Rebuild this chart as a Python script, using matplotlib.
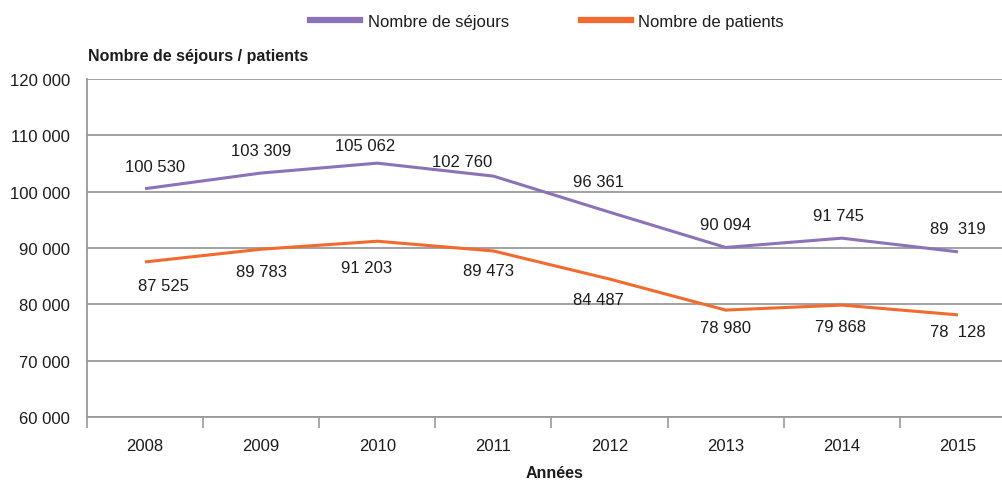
import matplotlib
matplotlib.use("Agg")
import matplotlib.pyplot as plt
from matplotlib.ticker import FuncFormatter, FixedLocator
from matplotlib.lines import Line2D

years = ["2008", "2009", "2010", "2011", "2012", "2013", "2014", "2015"]
sejours = [100530, 103309, 105062, 102760, 96361, 90094, 91745, 89319]
patients = [87525, 89783, 91203, 89473, 84487, 78980, 79868, 78128]
sejours_labels = ["100 530", "103 309", "105 062", "102 760", "96 361", "90 094", "91 745", "89  319"]
patients_labels = ["87 525", "89 783", "91 203", "89 473", "84 487", "78 980", "79 868", "78  128"]

# label offsets in pixels (dx, dy) relative to point, screen coords (dy positive = down)
sej_off = [(10, -22), (0, -23), (-12, -18), (-31, -15), (-11, -31), (0, -23), (-3, -23), (0, -23)]
pat_off = [(18, 24), (0, 22), (-11, 26), (-5, 20), (-11, 20), (0, 17), (-1, 21), (0, 17)]

FONT = ["Liberation Sans", "DejaVu Sans"]
plt.rcParams["font.family"] = FONT
TXT = "#1c1c1c"
GRID = "#9a9a9a"
PURPLE = "#8c72b8"
ORANGE = "#f26a2e"
FS = 12

fig = plt.figure(figsize=(10.02, 4.81), dpi=100)
ax = fig.add_axes([87 / 1002, 63 / 481, 929 / 1002, 338 / 481])

x = list(range(1, len(years) + 1))
ax.plot(x, sejours, color=PURPLE, lw=2.2, solid_capstyle="butt")
ax.plot(x, patients, color=ORANGE, lw=2.2, solid_capstyle="butt")

px2pt = 0.72
for xi, v, lab, (dx, dy) in zip(x, sejours, sejours_labels, sej_off):
    ax.annotate(lab, (xi, v), xytext=(dx * px2pt, -dy * px2pt), textcoords="offset points",
                ha="center", va="center", fontsize=FS, color=TXT)
for xi, v, lab, (dx, dy) in zip(x, patients, patients_labels, pat_off):
    ax.annotate(lab, (xi, v), xytext=(dx * px2pt, -dy * px2pt), textcoords="offset points",
                ha="center", va="center", fontsize=FS, color=TXT)

ax.set_xlim(0.5, len(years) + 0.5)
ax.set_ylim(60000, 120000)
ax.set_yticks(range(60000, 120001, 10000))
ax.yaxis.set_major_formatter(FuncFormatter(lambda v, p: f"{int(v):,}".replace(",", " ")))
ax.set_xticks(x)
ax.set_xticklabels(years)
ax.xaxis.set_minor_locator(FixedLocator([i + 0.5 for i in range(0, len(years) + 1)]))
ax.tick_params(axis="x", which="major", length=0, pad=15, labelsize=FS, labelcolor=TXT)
ax.tick_params(axis="x", which="minor", length=8, width=1.2, color=GRID, direction="out")
ax.tick_params(axis="y", which="major", length=0, pad=12, labelsize=FS, labelcolor=TXT)

ax.grid(axis="y", color=GRID, lw=1.3)
ax.set_axisbelow(True)
for s in ["top", "right"]:
    ax.spines[s].set_visible(False)
ax.spines["left"].set_color(GRID)
ax.spines["left"].set_linewidth(1.3)
ax.spines["bottom"].set_color(GRID)
ax.spines["bottom"].set_linewidth(1.3)

fig.text(88 / 1002, 1 - 57 / 481, "Nombre de séjours / patients", fontsize=11.5,
         fontweight="bold", color=TXT, ha="left", va="center")
fig.text(555 / 1002, 1 - 474 / 481, "Années", fontsize=11.5, fontweight="bold",
         color=TXT, ha="center", va="center")

handles = [Line2D([], [], color=PURPLE, lw=4.5), Line2D([], [], color=ORANGE, lw=4.5)]
fig.legend(handles, ["Nombre de séjours", "Nombre de patients"], loc="center",
           bbox_to_anchor=(547 / 1002, 1 - 22 / 481), ncol=2, frameon=False,
           fontsize=FS, handlelength=3.0, columnspacing=4.3, handletextpad=0.45,
           labelcolor=TXT)

fig.savefig("out.png", dpi=100)
